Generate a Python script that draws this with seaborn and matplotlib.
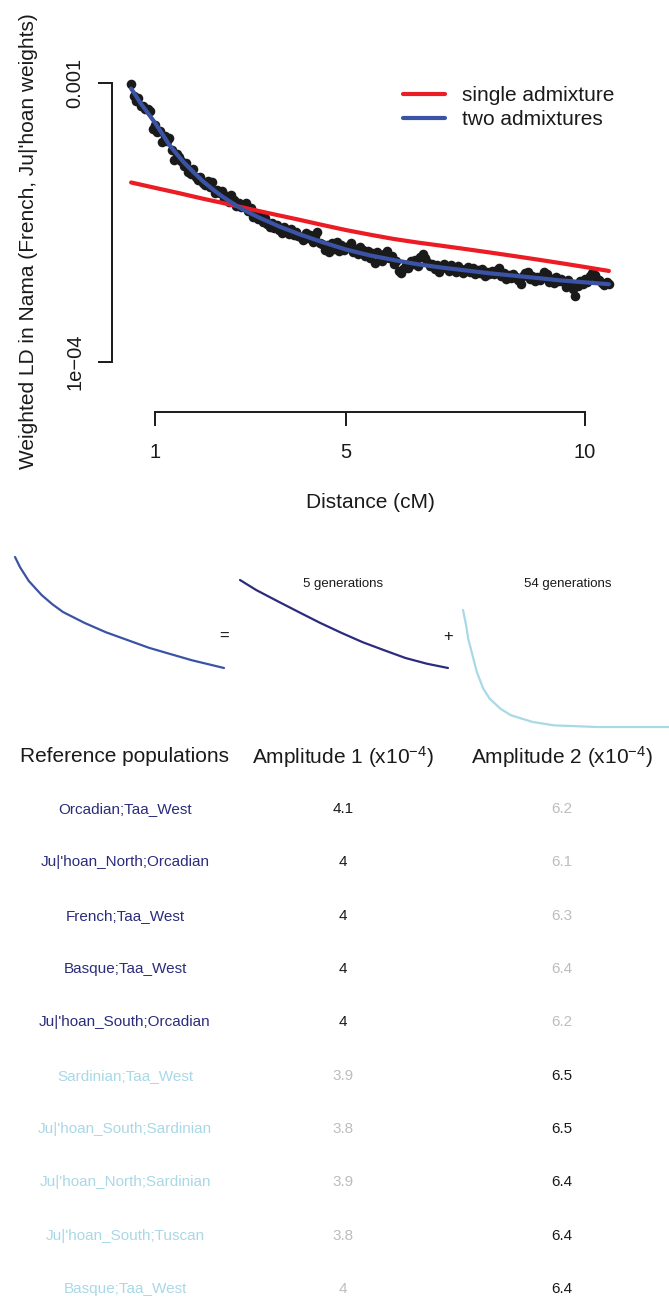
import numpy as np
import pandas as pd
import matplotlib
matplotlib.use("Agg")
import matplotlib.pyplot as plt
import seaborn as sns
from matplotlib.ticker import NullLocator

# ---------------- data ----------------
distance_cm = [
    0.50, 0.55, 0.60, 0.65, 0.70, 0.75, 0.80, 0.85, 0.90, 0.95,
    1.00, 1.05, 1.10, 1.15, 1.20, 1.25, 1.30, 1.35, 1.40, 1.45,
    1.50, 1.55, 1.60, 1.65, 1.70, 1.75, 1.80, 1.85, 1.90, 1.95,
    2.00, 2.05, 2.10, 2.15, 2.20, 2.25, 2.30, 2.35, 2.40, 2.45,
    2.50, 2.55, 2.60, 2.65, 2.70, 2.75, 2.80, 2.85, 2.90, 2.95,
    3.00, 3.05, 3.10, 3.15, 3.20, 3.25, 3.30, 3.35, 3.40, 3.45,
    3.50, 3.55, 3.60, 3.65, 3.70, 3.75, 3.80, 3.85, 3.90, 3.95,
    4.00, 4.05, 4.10, 4.15, 4.20, 4.25, 4.30, 4.35, 4.40, 4.45,
    4.50, 4.55, 4.60, 4.65, 4.70, 4.75, 4.80, 4.85, 4.90, 4.95,
    5.00, 5.05, 5.10, 5.15, 5.20, 5.25, 5.30, 5.35, 5.40, 5.45,
    5.50, 5.55, 5.60, 5.65, 5.70, 5.75, 5.80, 5.85, 5.90, 5.95,
    6.00, 6.05, 6.10, 6.15, 6.20, 6.25, 6.30, 6.35, 6.40, 6.45,
    6.50, 6.55, 6.60, 6.65, 6.70, 6.75, 6.80, 6.85, 6.90, 6.95,
    7.00, 7.05, 7.10, 7.15, 7.20, 7.25, 7.30, 7.35, 7.40, 7.45,
    7.50, 7.55, 7.60, 7.65, 7.70, 7.75, 7.80, 7.85, 7.90, 7.95,
    8.00, 8.05, 8.10, 8.15, 8.20, 8.25, 8.30, 8.35, 8.40, 8.45,
    8.50, 8.55, 8.60, 8.65, 8.70, 8.75, 8.80, 8.85, 8.90, 8.95,
    9.00, 9.05, 9.10, 9.15, 9.20, 9.25, 9.30, 9.35, 9.40, 9.45,
    9.50, 9.55, 9.60, 9.65, 9.70, 9.75, 9.80, 9.85, 9.90, 9.95,
    10.00, 10.05, 10.10, 10.15, 10.20, 10.25, 10.30, 10.35, 10.40, 10.45,
    10.50,
]

# weighted LD, in units of 1e-4
weighted_ld_e4 = [
    9.95, 8.95, 8.60, 8.80, 8.30,
    8.30, 8.05, 8.10, 7.95, 6.85, 7.05,
    6.70, 6.75, 6.15, 6.45, 6.20, 6.35,
    5.75, 5.30, 5.55, 5.45, 5.25, 5.05,
    5.17, 4.80, 4.70, 4.90, 4.60, 4.50, 4.62, 4.38,
    4.30, 4.45, 4.25, 4.40, 4.05, 4.15, 4.02, 4.10,
    3.85, 3.95, 3.75, 3.98, 3.80, 3.62, 3.72, 3.58,
    3.62, 3.70, 3.48, 3.55, 3.30, 3.42, 3.25, 3.35,
    3.18, 3.28, 3.12, 3.05, 3.15, 3.02, 3.10, 2.98,
    2.90, 3.05, 2.96, 2.88, 2.99, 2.85, 2.93, 2.82,
    2.80, 2.74, 2.90, 2.78, 2.85, 2.70, 2.82, 2.93, 2.68, 2.64,
    2.52, 2.62, 2.48, 2.66, 2.55, 2.70, 2.50, 2.62, 2.52, 2.58,
    2.60, 2.66, 2.47, 2.55, 2.44, 2.58, 2.52, 2.40, 2.50, 2.36,
    2.45, 2.27, 2.47, 2.38, 2.30, 2.44, 2.50, 2.36, 2.40, 2.25,
    2.30, 2.12, 2.08, 2.16, 2.22, 2.18, 2.30, 2.24, 2.33, 2.20,
    2.38, 2.44, 2.36, 2.28, 2.20, 2.25, 2.15, 2.22, 2.10, 2.17,
    2.24, 2.20, 2.12, 2.22, 2.18, 2.10, 2.21, 2.16, 2.08, 2.15,
    2.19, 2.11, 2.17, 2.06, 2.13, 2.09, 2.15, 2.04, 2.10, 2.06,
    2.12, 2.06, 2.14, 2.18, 2.03, 2.09, 1.98, 2.05, 2.00, 2.07,
    2.02, 1.96, 1.91, 2.03, 2.08, 2.10, 1.99, 2.04, 1.95, 2.01,
    1.97, 2.03, 2.10, 2.06, 1.94, 1.99, 1.92, 2.02, 1.95, 1.98,
    1.93, 1.86, 1.97, 1.90, 1.82, 1.73, 1.88, 1.95, 1.90, 1.98,
    1.94, 2.03, 2.08, 2.05, 1.99, 1.96, 1.92, 1.89, 1.93, 1.90,
]
assert len(distance_cm) == len(weighted_ld_e4) == 201

# fitted curves (units of 1e-4)
single_fit_cm = [0.5, 1.0, 1.5, 2.0, 2.5, 3.0, 3.5, 4.0, 4.5, 5.0, 5.5,
                 6.0, 6.5, 7.0, 7.5, 8.0, 8.5, 9.0, 9.5, 10.0, 10.5]
single_fit_e4 = [4.40, 4.21, 4.03, 3.85, 3.69, 3.53, 3.38, 3.24, 3.10, 2.97, 2.86,
                 2.76, 2.68, 2.61, 2.54, 2.47, 2.40, 2.33, 2.26, 2.19, 2.12]

two_fit_cm = [0.5, 0.6, 0.7, 0.8, 0.9, 1.0, 1.15, 1.3, 1.45, 1.6, 1.8, 2.0, 2.2, 2.4,
              2.6, 2.8, 3.0, 3.2, 3.4, 3.6, 3.8, 4.0, 4.5, 5.0, 5.5, 6.0, 6.5, 7.0,
              7.5, 8.0, 8.5, 9.0, 9.5, 10.0, 10.5]
two_fit_e4 = [9.55, 9.00, 8.45, 8.02, 7.60, 7.20, 6.58, 6.00, 5.58, 5.20, 4.80, 4.45, 4.17, 3.93,
              3.73, 3.55, 3.41, 3.28, 3.17, 3.06, 2.97, 2.88, 2.69, 2.53, 2.41, 2.32, 2.24, 2.18,
              2.13, 2.08, 2.04, 2.00, 1.96, 1.93, 1.90]

legend_labels = ["single admixture", "two admixtures"]

# schematic decomposition curves (normalised position within each small panel; y measured downwards)
combined_x = [0, .025, .066, .127, .179, .230, .333, .435, .538, .641, .743, .846, 1]
combined_y = [0, .095, .216, .342, .426, .496, .594, .678, .748, .818, .874, .930, 1]
gen5_x = [0, .078, .180, .283, .385, .488, .590, .693, .795, .898, 1]
gen5_y = [0, .114, .240, .365, .487, .601, .707, .798, .886, .951, 1]
gen54_x = [0, .015, .025, .046, .067, .098, .129, .181, .233, .338, .442, .65, 1]
gen54_y = [0, .129, .243, .386, .529, .671, .757, .843, .900, .957, .986, 1, 1]
component_labels = ["5 generations", "54 generations"]

# table
table_headers = ["Reference populations", "Amplitude 1 (x10$^{-4}$)", "Amplitude 2 (x10$^{-4}$)"]
ref_pops = ["Orcadian;Taa_West", "Ju|'hoan_North;Orcadian", "French;Taa_West",
            "Basque;Taa_West", "Ju|'hoan_South;Orcadian", "Sardinian;Taa_West",
            "Ju|'hoan_South;Sardinian", "Ju|'hoan_North;Sardinian", "Ju|'hoan_South;Tuscan",
            "Basque;Taa_West"]
amplitude1 = ["4.1", "4", "4", "4", "4", "3.9", "3.8", "3.9", "3.8", "4"]
amplitude2 = ["6.2", "6.1", "6.3", "6.4", "6.2", "6.5", "6.5", "6.4", "6.4", "6.4"]
dominant_component = [1, 1, 1, 1, 1, 2, 2, 2, 2, 2]

# ---------------- style ----------------
sns.set_theme(style="white")
plt.rcParams["font.family"] = ["Liberation Sans", "DejaVu Sans"]
plt.rcParams["mathtext.fontset"] = "custom"
plt.rcParams["mathtext.rm"] = "Liberation Sans"
plt.rcParams["mathtext.it"] = "Liberation Sans:italic"
plt.rcParams["mathtext.bf"] = "Liberation Sans:bold"

INK = "#1a1a1a"
RED = "#EC1C24"
BLUE = "#3A53A4"
NAVY = "#2B2C7C"
LIGHT = "#A9D8E6"
GREY = "#BDBDBD"

W, H = 669, 1300
fig = plt.figure(figsize=(W / 100, H / 100), dpi=100)
fig.patch.set_facecolor("white")


def box(l, t, r, b):
    return [l / W, 1 - b / H, (r - l) / W, (b - t) / H]


# ---------------- top panel ----------------
ax = fig.add_axes(box(112, 70, 625, 412))
px_per_cm = (585 - 155) / 9.0
px_per_dec = 362 - 83
ax.set_yscale("log")
ax.set_xlim(1 - (155 - 112) / px_per_cm, 1 + (625 - 155) / px_per_cm)
ax.set_ylim(10 ** (-3 - (412 - 83) / px_per_dec), 10 ** (-3 + (83 - 70) / px_per_dec))

pts = pd.DataFrame({"d": distance_cm, "ld": np.array(weighted_ld_e4) * 1e-4})
sns.scatterplot(data=pts, x="d", y="ld", color=INK, s=48, linewidth=0, ax=ax, zorder=2)
sns.lineplot(x=single_fit_cm, y=np.array(single_fit_e4) * 1e-4, color=RED, lw=3.0,
             ax=ax, label=legend_labels[0], zorder=3)
sns.lineplot(x=two_fit_cm, y=np.array(two_fit_e4) * 1e-4, color=BLUE, lw=3.0,
             ax=ax, label=legend_labels[1], zorder=4)

for s in ["top", "right"]:
    ax.spines[s].set_visible(False)
for s in ["left", "bottom"]:
    ax.spines[s].set_linewidth(1.4)
    ax.spines[s].set_color(INK)
ax.spines["left"].set_bounds(1e-4, 1e-3)
ax.spines["bottom"].set_bounds(1, 10)
ax.set_xticks([1, 5, 10])
ax.set_xticklabels(["1", "5", "10"])
ax.set_yticks([1e-4, 1e-3])
ax.set_yticklabels(["1e\u221204", "0.001"], rotation=90, va="center")
ax.yaxis.set_minor_locator(NullLocator())
ax.tick_params(axis="both", which="major", direction="out", length=10, width=1.4,
               color=INK, labelcolor=INK, labelsize=14.5, bottom=True, left=True)
ax.tick_params(axis="x", pad=12)
ax.tick_params(axis="y", pad=10)
ax.set_xlabel("")
ax.set_ylabel("")
ax.grid(False)
ax.set_facecolor("none")

ax.legend(loc="upper left", bbox_to_anchor=(403 / W, 1 - 86 / H), bbox_transform=fig.transFigure,
          frameon=False, fontsize=15, handlelength=2.0, handletextpad=0.85,
          labelspacing=0.25, borderpad=0, borderaxespad=0)
for t in ax.get_legend().get_texts():
    t.set_color(INK)

fig.text(29 / W, 1 - 241 / H, "Weighted LD in Nama (French, Ju|'hoan weights)",
         rotation=90, ha="center", va="center", fontsize=15, color=INK)
fig.text(370 / W, 1 - 503 / H, "Distance (cM)", ha="center", va="center", fontsize=15, color=INK)

# ---------------- decomposition schematic ----------------
def small_curve(rect, xs, ys, color):
    a = fig.add_axes(box(*rect))
    sns.lineplot(x=xs, y=ys, color=color, lw=1.6, ax=a, sort=False)
    for ln in a.lines:
        ln.set_clip_on(False)
    a.set_xlim(0, 1)
    a.set_ylim(1, 0)
    a.axis("off")
    return a

small_curve((15, 557, 224, 668), combined_x, combined_y, BLUE)
small_curve((240, 580, 448, 668), gen5_x, gen5_y, NAVY)
small_curve((463, 610, 669, 727), gen54_x, gen54_y, LIGHT)

fig.text(224 / W, 1 - 636 / H, "=", ha="center", va="center", fontsize=12, color=INK)
fig.text(448 / W, 1 - 636 / H, "+", ha="center", va="center", fontsize=12, color=INK)
fig.text(343 / W, 1 - 584 / H, component_labels[0], ha="center", va="center", fontsize=9.5, color=INK)
fig.text(568 / W, 1 - 584 / H, component_labels[1], ha="center", va="center", fontsize=9.5, color=INK)

# ---------------- table ----------------
axt = fig.add_axes([0, 0, 1, (H - 730) / H])
axt.set_xlim(0, W)
axt.set_ylim(H, 730)
axt.axis("off")
col_x = [125, 343, 562]
for cx, htxt in zip(col_x, table_headers):
    axt.text(cx, 757, htxt, ha="center", va="center", fontsize=15, color=INK)
row0, row_step = 809, (1289 - 809) / 9
for i, (name, a1, a2, grp) in enumerate(zip(ref_pops, amplitude1, amplitude2, dominant_component)):
    y = row0 + i * row_step
    name_col = NAVY if grp == 1 else LIGHT
    a1_col = INK if grp == 1 else GREY
    a2_col = GREY if grp == 1 else INK
    axt.text(col_x[0], y, name, ha="center", va="center", fontsize=11, color=name_col)
    axt.text(col_x[1], y, a1, ha="center", va="center", fontsize=11, color=a1_col)
    axt.text(col_x[2], y, a2, ha="center", va="center", fontsize=11, color=a2_col)

fig.savefig("out.png", dpi=100, facecolor="white")
